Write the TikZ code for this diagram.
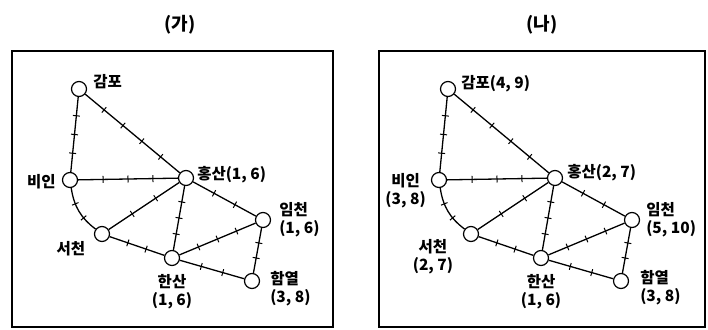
\documentclass[tikz,border=0pt]{standalone}
\usepackage{fontspec}
\newfontfamily\kr{Noto Sans CJK KR}
\usetikzlibrary{positioning,decorations.markings}

\tikzset{
  stn/.style={circle,draw,fill=white,line width=1.2pt,minimum size=15pt,inner sep=0pt},
  lbl/.style={font=\kr\bfseries\fontsize{15.5}{18}\selectfont,inner sep=1pt},
  ttl/.style={font=\kr\bfseries\fontsize{18}{20}\selectfont},
  edge/.style={line width=1.3pt},
  marked/.style={postaction={decorate,decoration={markings,
    mark=between positions {1/(#1+1)} and {(#1+.5)/(#1+1)} step {1/(#1+1)}
      with {\draw[line width=1pt] (0,-3.5pt)--(0,3.5pt);}}}}
}

\begin{document}
\begin{tikzpicture}[x=1pt,y=-1pt,line width=.35pt]
\useasboundingbox (0,0) rectangle (708,329);
% (ga)
\node[ttl] (t-a) at (180,25) {(가)};
\draw[line width=1.3pt] (12,51) rectangle (333,327);
\node[stn] (a-gampo) at (79,89) {};\node[stn] (a-biin) at (70,180) {};
\node[stn] (a-hong) at (186,178) {};\node[stn] (a-seo) at (102,234) {};
\node[stn] (a-han) at (172,258) {};\node[stn] (a-im) at (263,220) {};
\node[stn] (a-ham) at (252,281) {};
% (na)
\node[ttl] (t-b) at (542,25) {(나)};
\draw[line width=1.3pt] (379,51) rectangle (705,327);
\begin{scope}[xshift=369pt]
\node[stn] (b-gampo) at (79,89) {};\node[stn] (b-biin) at (70,180) {};
\node[stn] (b-hong) at (186,178) {};\node[stn] (b-seo) at (102,234) {};
\node[stn] (b-han) at (172,258) {};\node[stn] (b-im) at (263,220) {};
\node[stn] (b-ham) at (252,281) {};
\end{scope}
% lines with distance marks
\foreach \p in {a,b}{
  \foreach \u/\v/\n in {gampo/biin/3,gampo/hong/4,biin/hong/3,seo/hong/2,han/hong/3,
      seo/han/2,hong/im/2,han/im/3,han/ham/2,im/ham/2}
    \draw[edge,marked=\n] (\p-\u) -- (\p-\v);
  \draw[edge,marked=2] (\p-biin) to[bend right=22] (\p-seo);
}
% labels (ga)
\node[lbl,right=5pt of a-gampo,yshift=7pt] (a-gampo-l) {감포};
\node[lbl,left=5pt of a-biin,yshift=-2pt] (a-biin-l) {비인};
\node[lbl,right=2pt of a-hong,yshift=3pt] (a-hong-l) {홍산(1, 6)};
\node[lbl,below left=0pt and 10pt of a-seo] (a-seo-l) {서천};
\node[lbl,below=7pt of a-han,align=center] (a-han-l) {한산\\(1, 6)};
\node[lbl,right=7pt of a-im,align=left] (a-im-l) {임천\\(1, 6)};
\node[lbl,right=9pt of a-ham,yshift=-8pt,align=left] (a-ham-l) {함열\\(3, 8)};
% labels (na)
\node[lbl,right=4pt of b-gampo,yshift=5pt] (b-gampo-l) {감포(4, 9)};
\node[lbl,left=4pt of b-biin,yshift=-11pt,align=center] (b-biin-l) {비인\\(3, 8)};
\node[lbl,right=3pt of b-hong,yshift=5pt] (b-hong-l) {홍산(2, 7)};
\node[lbl,below left=-2pt and 11pt of b-seo,align=center] (b-seo-l) {서천\\(2, 7)};
\node[lbl,below=7pt of b-han,align=center] (b-han-l) {한산\\(1, 6)};
\node[lbl,right=5pt of b-im,align=left] (b-im-l) {임천\\(5, 10)};
\node[lbl,right=10pt of b-ham,yshift=-7pt,align=left] (b-ham-l) {함열\\(3, 8)};
\end{tikzpicture}
\end{document}
